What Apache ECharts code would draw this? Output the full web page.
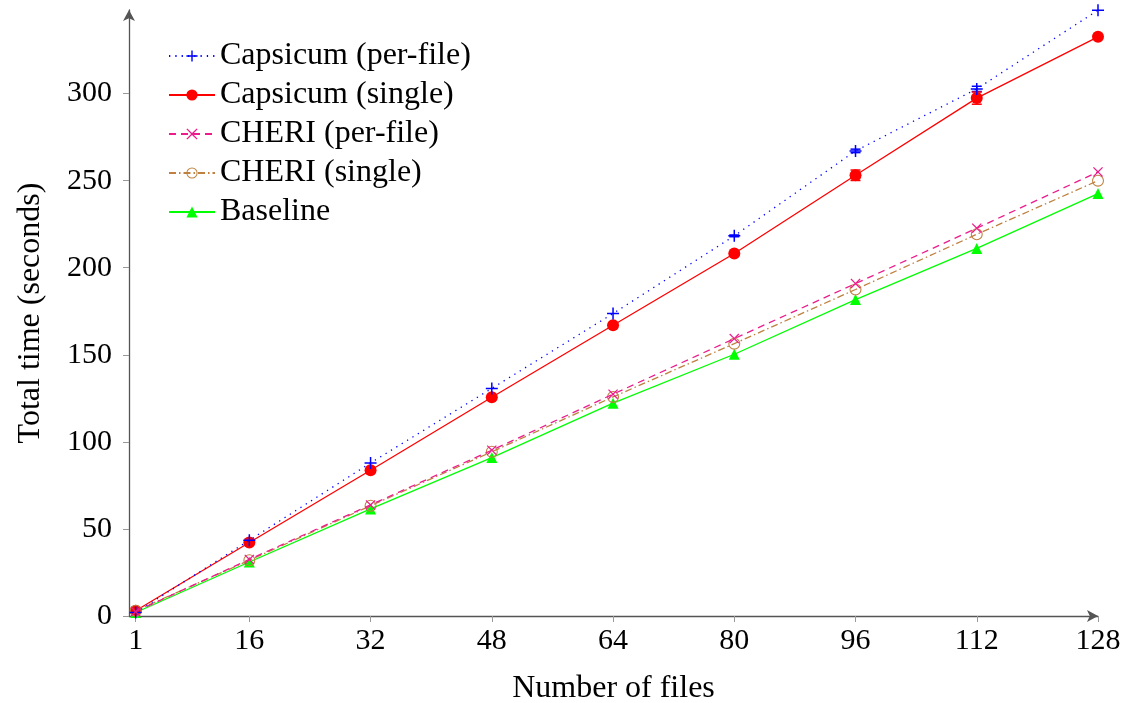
<!DOCTYPE html>
<html>
<head>
<meta charset="utf-8">
<script src="https://cdn.jsdelivr.net/npm/echarts@6/dist/echarts.min.js"></script>
<style>html,body{margin:0;padding:0;background:#fff}#c{width:1129px;height:703px}</style>
</head>
<body>
<div id="c"></div>
<script>
const files = [1, 16, 32, 48, 64, 80, 96, 112, 128];
const xTicks = [1, 16, 32, 48, 64, 80, 96, 112, 128];
const yTicks = [0, 50, 100, 150, 200, 250, 300];
const names = ['Capsicum (per-file)', 'Capsicum (single)', 'CHERI (per-file)', 'CHERI (single)', 'Baseline'];
const capPerFile = [2, 43.5, 87.9, 130.7, 173.7, 218.3, 267.1, 302.7, 347.9];
const capSingle = [3, 42.2, 83.7, 125.6, 167, 208.2, 253.1, 297.4, 332.6];
const cheriPerFile = [2.5, 32.5, 63.8, 95.2, 127.4, 159.3, 190.9, 222.7, 255];
const cheriSingle = [3, 32, 63.3, 94.3, 125.8, 156.4, 187.5, 219.2, 250];
const baseline = [2, 31, 61.5, 91, 122.2, 150.3, 181.7, 211.1, 242.6];
const capPerFileErr = [0, 0, 0, 0, 0, 0.5, 1, 1.5, 0];
const capSingleErr = [0, 0.5, 0.5, 1, 1, 1, 3, 3.5, 0.5];

const FONT = 'Liberation Serif';
const PLUS = 'path://M8.75,0H11.25V8.75H20V11.25H11.25V20H8.75V11.25H0V8.75H8.75Z';
const CROSS = 'path://M0,1.7L1.7,0L10,8.3L18.3,0L20,1.7L11.7,10L20,18.3L18.3,20L10,11.7L1.7,20L0,18.3L8.3,10Z';
const RING = 'path://M0,10A10,10,0,1,1,20,10A10,10,0,1,1,0,10ZM1.8,10A8.2,8.2,0,1,0,18.2,10A8.2,8.2,0,1,0,1.8,10Z';

function pairs(vals){ return files.map((x,i)=>[x, vals[i]]); }
function errData(vals, errs){ return files.map((x,i)=>[x, vals[i], errs[i]]).filter(d=>d[2]>0); }
function errSeries(vals, errs, color){
  return {
    type:'custom', silent:true, z:1,
    data: errData(vals, errs),
    renderItem: function(params, api){
      const x = api.value(0), y = api.value(1), e = api.value(2);
      const top = api.coord([x, y + e]);
      const bot = api.coord([x, y - e]);
      const hw = 5;
      const st = {stroke:color, lineWidth:1.5};
      return {type:'group', children:[
        {type:'line', shape:{x1:top[0], y1:top[1], x2:bot[0], y2:bot[1]}, style:st},
        {type:'line', shape:{x1:top[0]-hw, y1:top[1], x2:top[0]+hw, y2:top[1]}, style:st},
        {type:'line', shape:{x1:bot[0]-hw, y1:bot[1], x2:bot[0]+hw, y2:bot[1]}, style:st}
      ]};
    }
  };
}

const chart = echarts.init(document.getElementById('c'), null, {renderer:'canvas'});
chart.setOption({
  animation:false,
  backgroundColor:'#fff',
  textStyle:{fontFamily:FONT},
  grid:{left:129, right:31, top:10, bottom:87, containLabel:false, outerBoundsMode:'none'},
  legend:{
    data:names, orient:'vertical', left:163, top:35,
    itemWidth:46, itemHeight:14, itemGap:7,
    textStyle:{fontFamily:FONT, fontSize:32, color:'#000', lineHeight:32},
    inactiveColor:'#ccc'
  },
  xAxis:{
    type:'value', min:0.12, max:128,
    name:'Number of files', nameLocation:'middle', nameGap:57,
    nameTextStyle:{fontFamily:FONT, fontSize:32, color:'#000'},
    axisLine:{show:true, onZero:false, symbol:['none','arrow'], symbolSize:[9,11], lineStyle:{color:'#555', width:1.3}},
    axisTick:{show:true, customValues:xTicks, length:6, inside:false, lineStyle:{color:'#999'}},
    axisLabel:{customValues:xTicks, fontFamily:FONT, fontSize:30, color:'#000', margin:10},
    splitLine:{show:false}
  },
  yAxis:{
    type:'value', min:0, max:348,
    name:'Total time (seconds)', nameLocation:'middle', nameGap:82,
    nameTextStyle:{fontFamily:FONT, fontSize:32, color:'#000'},
    axisLine:{show:true, onZero:false, symbol:['none','arrow'], symbolSize:[9,11], lineStyle:{color:'#555', width:1.3}},
    axisTick:{show:true, customValues:yTicks, length:6, lineStyle:{color:'#999'}},
    axisLabel:{customValues:yTicks, fontFamily:FONT, fontSize:30, color:'#000', margin:17},
    splitLine:{show:false}
  },
  series:[
    errSeries(capPerFile, capPerFileErr, '#0000ff'),
    errSeries(capSingle, capSingleErr, '#ff0000'),
    {name:names[0], type:'line', data:pairs(capPerFile), symbol:PLUS, symbolSize:12, z:5,
      itemStyle:{color:'#0000ff'}, lineStyle:{color:'#0000ff', width:1.3, type:[1.3,5]}},
    {name:names[1], type:'line', data:pairs(capSingle), symbol:'circle', symbolSize:12, z:4,
      itemStyle:{color:'#ff0000'}, lineStyle:{color:'#ff0000', width:1.3, type:'solid'}},
    {name:names[2], type:'line', data:pairs(cheriPerFile), symbol:CROSS, symbolSize:10, z:5,
      itemStyle:{color:'#ec1c8c'}, lineStyle:{color:'#ec1c8c', width:1.3, type:[7,5]}},
    {name:names[3], type:'line', data:pairs(cheriSingle), symbol:RING, symbolSize:12, z:4,
      itemStyle:{color:'#bf8040'}, lineStyle:{color:'#bf8040', width:1.3, type:[7,3,1.5,3]}},
    {name:names[4], type:'line', data:pairs(baseline), symbol:'triangle', symbolSize:11, z:3,
      itemStyle:{color:'#00ff00'}, lineStyle:{color:'#00ff00', width:1.3, type:'solid'}}
  ]
});
</script>
</body>
</html>
